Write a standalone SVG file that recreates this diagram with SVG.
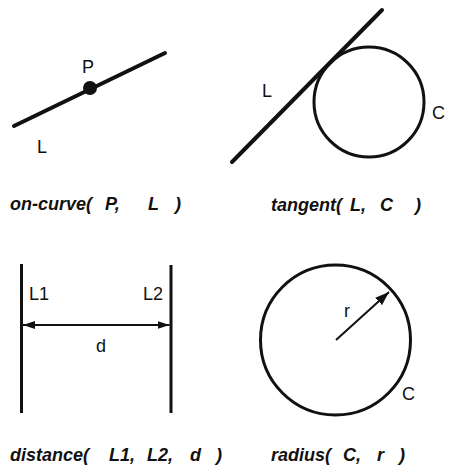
<svg xmlns="http://www.w3.org/2000/svg" width="453" height="469" viewBox="0 0 453 469">
<style>
.lbl{font-family:"Liberation Sans",Arial,sans-serif;font-size:18px;fill:#111}
.cap{font-family:"Liberation Sans",Arial,sans-serif;font-size:18px;font-weight:bold;font-style:italic;fill:#111}
.thick{stroke:#111;stroke-width:4;stroke-linecap:round;fill:none}
.ring{stroke:#111;stroke-width:3;fill:none}
.vl{stroke:#111;stroke-width:3;fill:none}
.arr{stroke:#111;stroke-width:2;fill:none}
</style>
<defs>
<marker id="ah" viewBox="0 0 12 8" refX="12" refY="4" markerWidth="12" markerHeight="8" markerUnits="userSpaceOnUse" orient="auto-start-reverse">
<path d="M0,0 L12,4 L0,8 Z" fill="#111"/>
</marker>
<marker id="ah2" viewBox="0 0 14 10" refX="14" refY="5" markerWidth="14" markerHeight="10" markerUnits="userSpaceOnUse" orient="auto">
<path d="M0,0 L14,5 L0,10 Z" fill="#111"/>
</marker>
</defs>
<rect width="453" height="469" fill="#fff"/>
<g id="oncurve">
<line class="thick" x1="14" y1="126" x2="165" y2="53"/>
<circle cx="90" cy="88" r="7" fill="#111"/>
<text class="lbl" x="82" y="73">P</text>
<text class="lbl" x="37" y="153">L</text>
<text class="cap" y="210"><tspan x="10">on-curve(</tspan><tspan x="105">P,</tspan><tspan x="148">L</tspan><tspan x="175">)</tspan></text>
</g>
<g id="tangent">
<line class="thick" x1="232" y1="162" x2="382" y2="10"/>
<circle class="ring" cx="369" cy="102" r="55"/>
<text class="lbl" x="262" y="97">L</text>
<text class="lbl" x="432" y="119">C</text>
<text class="cap" y="211"><tspan x="271">tangent(</tspan><tspan x="350">L,</tspan><tspan x="380">C</tspan><tspan x="415">)</tspan></text>
</g>
<g id="distance">
<line class="vl" x1="21.5" y1="264" x2="21.5" y2="413"/>
<line class="vl" x1="171" y1="265" x2="171" y2="413"/>
<text class="lbl" x="29" y="300">L1</text>
<text class="lbl" x="143" y="300">L2</text>
<text class="lbl" x="96" y="352">d</text>
<text class="cap" y="461"><tspan x="10">distance(</tspan><tspan x="109">L1,</tspan><tspan x="147">L2,</tspan><tspan x="190">d</tspan><tspan x="216">)</tspan></text>
</g>
<g id="radius">
<circle class="ring" cx="335.5" cy="340" r="75"/>
<text class="lbl" x="344" y="317">r</text>
<text class="lbl" x="402" y="400">C</text>
<text class="cap" y="461"><tspan x="271">radius(</tspan><tspan x="343">C,</tspan><tspan x="377">r</tspan><tspan x="399">)</tspan></text>
</g>
<g id="connectors">
<line class="arr" x1="23" y1="325" x2="169.5" y2="325" marker-start="url(#ah)" marker-end="url(#ah)"/>
<line class="arr" x1="336" y1="340" x2="389" y2="292" marker-end="url(#ah2)"/>
</g>
</svg>
